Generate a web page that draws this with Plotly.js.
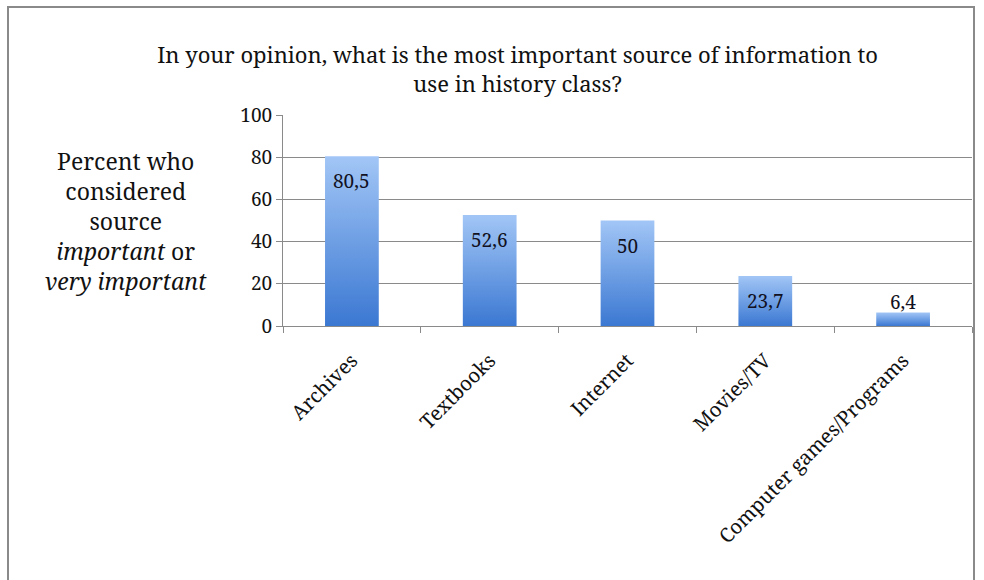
<!DOCTYPE html>
<html>
<head>
<meta charset="utf-8">
<script src="https://cdn.plot.ly/plotly-3.0.1.min.js"></script>
</head>
<body style="margin:0">
<div id="chart"></div>
<script>
const categories = ["Archives", "Textbooks", "Internet", "Movies/TV", "Computer games/Programs"];
const values = [80.5, 52.6, 50, 23.7, 6.4];
const yTicks = [0, 20, 40, 60, 80, 100];
const chartTitle = "In your opinion, what is the most important source of information to<br>use in history class?";
const yTitle = "Percent who<br>considered<br>source<br><i>important</i> or<br><i>very important</i>";

const FONT = "Noto Serif";
const fmt = v => String(v).replace('.', ',');

const annotations = values.map((v, i) => ({
  x: categories[i], y: v, xref: 'x', yref: 'y',
  text: fmt(v), showarrow: false,
  yanchor: 'middle', yshift: v > 15 ? -25 : 11,
  font: { family: FONT, size: 19, color: '#111122' }
}));
annotations.push({
  xref: 'paper', yref: 'paper', x: -0.228, y: 0.5, xanchor: 'center', yanchor: 'middle',
  text: yTitle, showarrow: false,
  font: { family: FONT, size: 23, color: '#111111' }
});

const trace = {
  type: 'bar', x: categories, y: values,
  marker: { color: '#6a9ee4', line: { width: 0 } },
  hoverinfo: 'none'
};

const layout = {
  width: 984, height: 580,
  margin: { l: 283, r: 12, t: 115, b: 254 },
  paper_bgcolor: '#ffffff', plot_bgcolor: '#ffffff',
  bargap: 0.61,
  showlegend: false,
  font: { family: FONT },
  title: {
    text: chartTitle, xref: 'container', yref: 'container',
    x: 0.526, xanchor: 'center', y: 1 - 63 / 580, yanchor: 'top',
    font: { family: FONT, size: 22, color: '#111111' }
  },
  xaxis: {
    type: 'category', tickson: 'boundaries', ticks: 'outside', ticklen: 6,
    tickcolor: '#8a8a8a', showline: true, linecolor: '#8a8a8a', linewidth: 1,
    tickangle: -45, showgrid: false, ticklabelstandoff: 14,
    tickfont: { family: FONT, size: 20, color: '#111111' }
  },
  yaxis: {
    range: [0, 100], tickvals: yTicks, ticktext: yTicks.map(String),
    ticks: 'outside', ticklen: 6, tickcolor: '#8a8a8a',
    showline: true, linecolor: '#8a8a8a', linewidth: 1,
    showgrid: true, gridcolor: '#8a8a8a', gridwidth: 1, zeroline: false,
    tickfont: { family: FONT, size: 19, color: '#111111' }
  },
  shapes: [{
    type: 'rect', xref: 'paper', yref: 'paper', layer: 'above',
    x0: (8 - 283) / 689, x1: (974 - 283) / 689,
    y0: (326 - 600) / 211, y1: (326 - 7) / 211,
    line: { color: '#8a8a8a', width: 2 }, fillcolor: 'rgba(0,0,0,0)'
  }],
  annotations: annotations
};

Plotly.newPlot('chart', [trace], layout, { staticPlot: true }).then(gd => {
  const svg = gd.querySelector('svg.main-svg');
  const ns = 'http://www.w3.org/2000/svg';
  let defs = svg.querySelector('defs');
  if (!defs) { defs = document.createElementNS(ns, 'defs'); svg.insertBefore(defs, svg.firstChild); }
  const grad = document.createElementNS(ns, 'linearGradient');
  grad.setAttribute('id', 'barGrad');
  grad.setAttribute('x1', '0'); grad.setAttribute('y1', '0');
  grad.setAttribute('x2', '0'); grad.setAttribute('y2', '1');
  [['0%', '#a2c6f6'], ['100%', '#3b78d2']].forEach(([o, c]) => {
    const s = document.createElementNS(ns, 'stop');
    s.setAttribute('offset', o); s.setAttribute('stop-color', c);
    grad.appendChild(s);
  });
  defs.appendChild(grad);
  gd.querySelectorAll('.bars .point path').forEach(p => { p.style.fill = 'url(#barGrad)'; });
});
</script>
</body>
</html>
